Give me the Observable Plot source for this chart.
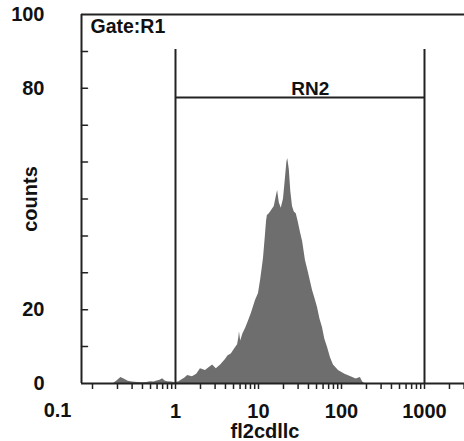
<!DOCTYPE html>
<html>
<head>
<meta charset="utf-8">
<script src="https://cdn.jsdelivr.net/npm/d3@7"></script>
<script src="https://cdn.jsdelivr.net/npm/@observablehq/plot@0.6"></script>
<style>
  html, body { margin: 0; padding: 0; background: #fff; }
</style>
</head>
<body>
<div id="chart"></div>
<script>
// Histogram outline (fluorescence, counts)
const fluor = [0.18, 0.2, 0.22, 0.24, 0.27, 0.3, 0.35, 0.4, 0.45, 0.5, 0.55, 0.6, 0.65, 0.7, 0.75, 0.8, 0.9, 1.0,
  1.1, 1.2, 1.3, 1.4, 1.6, 1.8, 2.0, 2.3, 2.6, 2.8, 3.1, 3.5, 4.0, 4.3, 4.7, 5.2, 5.6, 5.8, 5.9, 6.1, 6.5, 7.0, 7.6, 8.2, 9.2,
  10.0, 10.6, 11.2, 11.5, 12.1, 12.5, 12.8, 13.5, 14.5, 15.5, 16.5, 17.0, 17.8, 18.8, 20, 21, 22, 22.5, 23.5, 24.5, 25.7,
  27, 28.5, 30, 32, 34, 36.8, 40, 44.8, 48, 51.4, 55, 59, 63, 67.8, 73.7, 80, 92, 110, 130, 150, 169, 180, 190];
const counts = [0, 0.8, 1.6, 1.2, 0.6, 0.4, 0.3, 0.2, 0.3, 0.5, 0.4, 0.7, 0.9, 1.3, 0.7, 0.5, 0.4, 0.2,
  0.5, 1.0, 1.5, 2.2, 1.8, 2.5, 4.0, 3.5, 4.5, 5.0, 4.0, 5.0, 6.5, 7.5, 8.0, 9.5, 10.5, 12.5, 14, 11.5, 13.5, 15, 17, 19, 22.5,
  24.4, 28, 32, 34, 40, 44, 45.5, 46, 47, 48, 51, 52.3, 49, 47.5, 50, 55, 60, 61, 58, 52, 48,
  46.5, 46, 44, 41, 38.5, 33.3, 30, 25.2, 23, 20.6, 17.5, 15.2, 12, 9.8, 7.0, 5.0, 3.5, 2.5, 1.8, 1.2, 1.6, 0.4, 0];

const histogram = fluor.map((x, i) => ({x, y: counts[i]}));

// Gate RN2
const gateBounds = [1, 1000];
const gateLevel = 77.5;
const gateTop = 90.5;
const gateLabel = "RN2";
const gateLabelX = 42;
const gateTitle = "Gate:R1";

// Axes
const xLabels = [1, 10, 100, 1000];
const xMinorTicks = [0.1, 0.2, 0.3, 0.4, 0.5, 0.6, 0.7, 0.8, 0.9,
  1, 2, 3, 4, 5, 6, 7, 8, 9, 10, 20, 30, 40, 50, 60, 70, 80, 90,
  100, 200, 300, 400, 500, 600, 700, 800, 900, 1000, 2000, 3000];
const yLabels = [0, 20, 80, 100];
const yTicks = [10, 20, 30, 40, 50, 60, 70, 80, 90];
const xTitle = "fl2cdllc";
const yTitle = "counts";
const xDomain = [0.0737, 3034];
const yDomain = [0, 100];

const ink = "#222";
const tickShape = {draw(context, l) { context.moveTo(0, 0); context.lineTo(0, -l); }};

const chart = Plot.plot({
  width: 464,
  height: 441,
  marginLeft: 81,
  marginRight: 0,
  marginTop: 14,
  marginBottom: 58,
  style: {fontFamily: "'Liberation Sans', Arial, sans-serif", fontWeight: "bold", fontSize: "20px", color: "#111", background: "#fff"},
  x: {type: "log", domain: xDomain, axis: null},
  y: {domain: yDomain, axis: null},
  marks: [
    Plot.areaY(histogram, {x: "x", y: "y", fill: "#6e6e6e", curve: "linear"}),
    // gate
    Plot.ruleX(gateBounds, {y1: 0, y2: gateTop, stroke: ink, strokeWidth: 2}),
    Plot.ruleY([gateLevel], {x1: gateBounds[0], x2: gateBounds[1], stroke: ink, strokeWidth: 2}),
    Plot.text([gateLabel], {x: gateLabelX, y: gateLevel, text: d => d, lineAnchor: "bottom", dy: -3, fontSize: 19, fill: "#111"}),
    // frame
    Plot.ruleX([xDomain[0]], {stroke: ink, strokeWidth: 2}),
    Plot.ruleY([yDomain[1]], {stroke: ink, strokeWidth: 2}),
    Plot.ruleY([0], {stroke: ink, strokeWidth: 2}),
    Plot.text([gateTitle], {x: xDomain[0], y: yDomain[1], text: d => d, textAnchor: "start", lineAnchor: "top", dx: 9, dy: 5, fontSize: 19.5, fill: "#111"}),
    // y axis: inward ticks
    Plot.vector(yTicks, {x: () => xDomain[0], y: d => d, rotate: 90, length: 6, anchor: "start", shape: tickShape, stroke: ink, strokeWidth: 1.5}),
    Plot.axisY({ticks: yLabels, tickSize: 0, tickPadding: 37, tickFormat: d => String(d), label: null, fill: "#111"}),
    Plot.text([yTitle], {frameAnchor: "left", textAnchor: "middle", lineAnchor: "middle", rotate: -90, dx: -51, text: d => d, fontSize: 20, fill: "#111"}),
    // x axis
    Plot.axisX({ticks: xMinorTicks.filter(d => d > xDomain[0]), tickSize: 6, tickFormat: () => "", label: null, stroke: ink, strokeWidth: 1.5}),
    Plot.axisX({ticks: xLabels, tickSize: 0, tickPadding: 20, tickFormat: d => String(d), label: null, fill: "#111"}),
    Plot.text(["0.1"], {x: xDomain[0], y: 0, text: d => d, textAnchor: "end", lineAnchor: "top", dx: -10, dy: 19, fill: "#111"}),
    Plot.text([xTitle], {frameAnchor: "bottom", textAnchor: "middle", lineAnchor: "bottom", dx: -8, dy: 54, text: d => d, fill: "#111"})
  ]
});

document.getElementById("chart").appendChild(chart);
</script>
</body>
</html>
